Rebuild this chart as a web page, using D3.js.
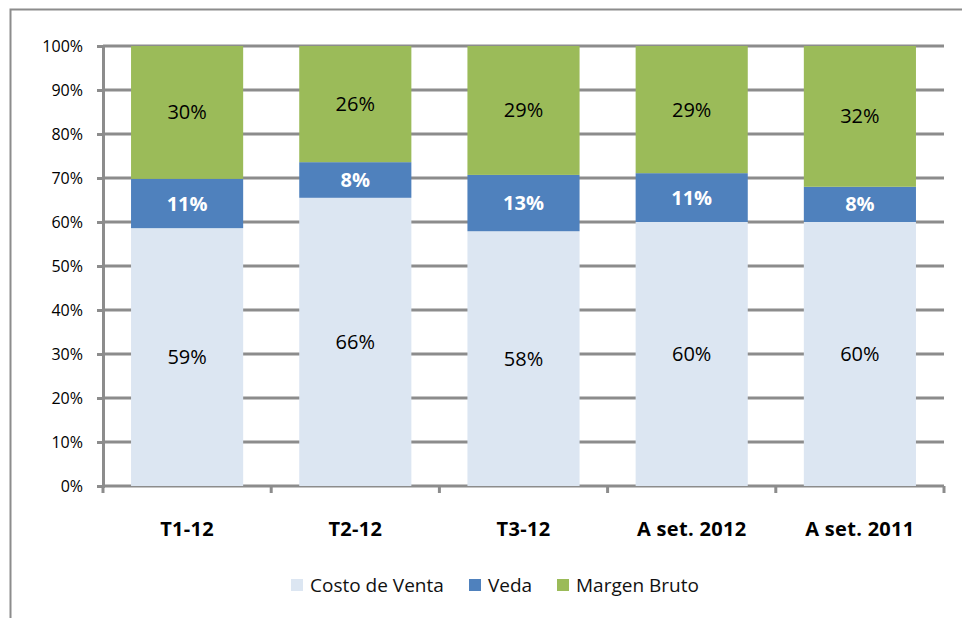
<!DOCTYPE html>
<html>
<head>
<meta charset="utf-8">
<script src="https://cdn.jsdelivr.net/npm/d3@7"></script>
<style>
  body { margin: 0; background: #fff; }
  svg { font-family: "Open Sans", Lato, sans-serif; }
</style>
</head>
<body>
<svg id="chart" width="962" height="618"></svg>
<script>
// Chart data (percent of total).
var categories = ["T1-12", "T2-12", "T3-12", "A set. 2012", "A set. 2011"];
var seriesNames = ["Costo de Venta", "Veda", "Margen Bruto"];
var costoDeVenta = [58.6, 65.5, 57.9, 60.0, 60.0];
var veda = [11.2, 8.1, 12.8, 11.1, 8.0];
var margenBruto = [30.2, 26.4, 29.3, 28.9, 32.0];
var yTicks = [0, 10, 20, 30, 40, 50, 60, 70, 80, 90, 100];

var colors = ["#dce6f2", "#4f81bd", "#9bbb59"];
var gridColor = "#8c8c8c";

var svg = d3.select("#chart");

// outer frame of the chart object
svg.append("rect")
  .attr("x", 10.5).attr("y", 9.5)
  .attr("width", 970).attr("height", 640)
  .attr("fill", "none")
  .attr("stroke", "#8c8c8c")
  .attr("stroke-width", 2);

var margin = { left: 103, right: 18, top: 46, bottom: 132 };
var width = 962 - margin.left - margin.right;
var height = 618 - margin.top - margin.bottom;

var g = svg.append("g")
  .attr("transform", "translate(" + margin.left + "," + margin.top + ")");

var x = d3.scaleBand()
  .domain(categories)
  .range([0, width])
  .paddingInner(1 / 3)
  .paddingOuter(1 / 6);

var y = d3.scaleLinear().domain([0, 100]).range([height, 0]);

var rows = categories.map(function(c, i) {
  return { cat: c, "Costo de Venta": costoDeVenta[i], "Veda": veda[i], "Margen Bruto": margenBruto[i] };
});
var stacked = d3.stack().keys(seriesNames)(rows);

// gridlines
g.append("g")
  .selectAll("line")
  .data(yTicks.filter(function(t) { return t > 0; }))
  .enter()
  .append("line")
  .attr("x1", 0).attr("x2", width)
  .attr("y1", function(d) { return y(d); })
  .attr("y2", function(d) { return y(d); })
  .attr("stroke", gridColor)
  .attr("stroke-width", 3);

// y axis
var yAxis = g.append("g")
  .call(d3.axisLeft(y).tickValues(yTicks).tickSize(6).tickPadding(14)
    .tickFormat(function(d) { return d + "%"; }));
yAxis.select(".domain").attr("stroke", gridColor).attr("stroke-width", 3);
yAxis.selectAll(".tick line").attr("stroke", gridColor).attr("stroke-width", 3);
yAxis.selectAll("text").attr("font-size", 16).attr("fill", "#000")
  .attr("font-family", "'Open Sans', sans-serif");

// x axis, ticks between categories
var step = x.step();
var bounds = d3.range(categories.length + 1).map(function(i) { return i * step; });
var xAxisG = g.append("g").attr("transform", "translate(0," + height + ")");
xAxisG.append("line")
  .attr("x1", 0).attr("x2", width)
  .attr("stroke", gridColor).attr("stroke-width", 3);
xAxisG.selectAll("line.tk")
  .data(bounds)
  .enter()
  .append("line")
  .attr("class", "tk")
  .attr("x1", function(d) { return d; }).attr("x2", function(d) { return d; })
  .attr("y1", 0).attr("y2", 7)
  .attr("stroke", gridColor).attr("stroke-width", 3);
xAxisG.selectAll("text")
  .data(categories)
  .enter()
  .append("text")
  .attr("x", function(d) { return x(d) + x.bandwidth() / 2; })
  .attr("y", 50)
  .attr("text-anchor", "middle")
  .attr("font-size", 20)
  .attr("font-weight", "bold")
  .attr("letter-spacing", 0.3)
  .text(function(d) { return d; });

// bars
var layer = g.selectAll("g.layer")
  .data(stacked)
  .enter()
  .append("g")
  .attr("class", "layer")
  .attr("fill", function(d, i) { return colors[i]; });

layer.selectAll("rect")
  .data(function(d) { return d; })
  .enter()
  .append("rect")
  .attr("x", function(d) { return x(d.data.cat); })
  .attr("width", x.bandwidth())
  .attr("y", function(d) { return y(d[1]); })
  .attr("height", function(d) { return y(d[0]) - y(d[1]); });

// value labels
layer.selectAll("text")
  .data(function(d, i) { return d.map(function(p) { return { p: p, s: i }; }); })
  .enter()
  .append("text")
  .attr("x", function(d) { return x(d.p.data.cat) + x.bandwidth() / 2; })
  .attr("y", function(d) { return (y(d.p[0]) + y(d.p[1])) / 2; })
  .attr("dy", "0.35em")
  .attr("text-anchor", "middle")
  .attr("font-size", 20)
  .attr("font-weight", function(d) { return d.s === 1 ? "bold" : "normal"; })
  .attr("fill", function(d) { return d.s === 1 ? "#fff" : "#000"; })
  .text(function(d) { return Math.round(d.p[1] - d.p[0]) + "%"; });

// legend
var legendX = [291, 469, 557];
var legend = svg.append("g")
  .selectAll("g")
  .data(seriesNames)
  .enter()
  .append("g")
  .attr("transform", function(d, i) { return "translate(" + legendX[i] + ",579)"; });
legend.append("rect")
  .attr("width", 12).attr("height", 12)
  .attr("fill", function(d, i) { return colors[i]; });
legend.append("text")
  .attr("x", 19).attr("y", 6)
  .attr("dy", "0.35em")
  .attr("font-size", 19)
  .attr("fill", "#111")
  .text(function(d) { return d; });
</script>
</body>
</html>
